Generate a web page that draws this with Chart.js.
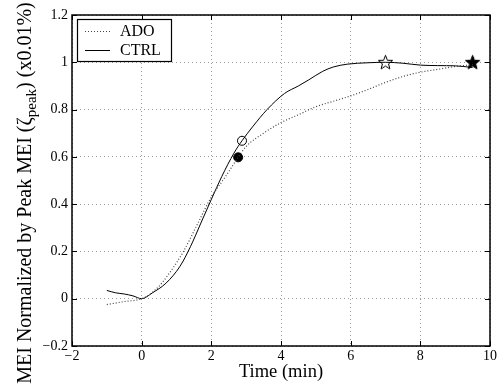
<!DOCTYPE html>
<html>
<head>
<meta charset="utf-8">
<script src="https://cdn.jsdelivr.net/npm/chart.js@4.4.0/dist/chart.umd.min.js"></script>
<style>
  html, body { margin: 0; padding: 0; background: #fff; }
  #wrap { width: 499px; height: 385px; }
</style>
</head>
<body>
<div id="wrap"><canvas id="meiChart" width="499" height="385"></canvas></div>
<script>
// ---- data ----
const ctrlX = [-1, -0.75, -0.5, -0.25, 0, 0.3, 0.7, 1.1, 1.4, 1.7, 2.0, 2.3, 2.65, 2.88, 3.2, 3.6, 4.1, 4.5, 4.8, 5.2, 5.5, 5.9, 6.5, 7.0, 7.5, 8.0, 8.5, 9.0, 9.5];
const ctrlY = [0.035, 0.025, 0.02, 0.012, 0, 0.024, 0.066, 0.137, 0.22, 0.32, 0.42, 0.517, 0.616, 0.668, 0.73, 0.80, 0.868, 0.90, 0.926, 0.962, 0.98, 0.992, 0.998, 1.0, 0.996, 0.988, 0.986, 0.985, 0.978];

const adoX = [-1, -0.5, 0, 0.4, 0.8, 1.2, 1.6, 2.0, 2.4, 2.77, 3.0, 3.5, 4.0, 4.5, 5.0, 5.5, 6.0, 6.5, 7.0, 7.5, 8.0, 8.5, 9.0, 9.5];
const adoY = [-0.025, -0.012, 0, 0.038, 0.109, 0.2, 0.315, 0.43, 0.515, 0.598, 0.644, 0.70, 0.745, 0.778, 0.812, 0.835, 0.858, 0.885, 0.915, 0.94, 0.958, 0.97, 0.982, 0.99];

// onset (circle) and peak (star) markers
const ctrlMarkX = [2.88, 7.0];
const ctrlMarkY = [0.668, 1.0];
const adoMarkX = [2.77, 9.5];
const adoMarkY = [0.598, 1.0];

const seriesLabels = ["ADO", "CTRL"];
const xTicks = [-2, 0, 2, 4, 6, 8, 10];
const yTicks = [-0.2, 0, 0.2, 0.4, 0.6, 0.8, 1, 1.2];

const FONT = "'Liberation Serif', 'Times New Roman', serif";

// five pointed star marker
function makeStar(filled) {
  const c = document.createElement("canvas");
  c.width = 17; c.height = 17;
  const g = c.getContext("2d");
  g.beginPath();
  for (let i = 0; i < 10; i++) {
    const r = i % 2 === 0 ? 7.5 : 3.2;
    const a = -Math.PI / 2 + i * Math.PI / 5;
    const px = 8.5 + r * Math.cos(a), py = 9 + r * Math.sin(a);
    if (i === 0) g.moveTo(px, py); else g.lineTo(px, py);
  }
  g.closePath();
  g.fillStyle = filled ? "#000" : "#fff";
  g.fill();
  g.lineWidth = 1;
  g.strokeStyle = "#000";
  g.stroke();
  return c;
}

const zip = (xs, ys) => xs.map((x, i) => ({ x: x, y: ys[i] }));
const minus = v => String(v).replace("-", "\u2212");

// box, inward ticks, legend, y title with subscript
const framePlugin = {
  id: "frame",
  afterDatasetsDraw(chart) {
    const ctx = chart.ctx;
    const a = chart.chartArea;
    const sx = chart.scales.x, sy = chart.scales.y;
    ctx.save();
    ctx.strokeStyle = "#000";
    ctx.lineWidth = 1.5;
    ctx.strokeRect(a.left, a.top, a.right - a.left, a.bottom - a.top);
    ctx.lineWidth = 1;
    ctx.beginPath();
    xTicks.forEach(t => {
      const px = Math.round(sx.getPixelForValue(t)) + 0.5;
      ctx.moveTo(px, a.bottom); ctx.lineTo(px, a.bottom - 5);
      ctx.moveTo(px, a.top); ctx.lineTo(px, a.top + 5);
    });
    yTicks.forEach(t => {
      const py = Math.round(sy.getPixelForValue(t)) + 0.5;
      ctx.moveTo(a.left, py); ctx.lineTo(a.left + 5, py);
      ctx.moveTo(a.right, py); ctx.lineTo(a.right - 5, py);
    });
    ctx.stroke();

    // legend
    const lx = a.left + 5, ly = a.top + 4, lw = 94, lh = 42;
    ctx.fillStyle = "#fff";
    ctx.fillRect(lx, ly, lw, lh);
    ctx.strokeStyle = "#000";
    ctx.lineWidth = 1.2;
    ctx.strokeRect(lx + 0.5, ly + 0.5, lw, lh);
    ctx.font = "16px " + FONT;
    ctx.textBaseline = "middle";
    ctx.fillStyle = "#000";
    seriesLabels.forEach((lab, i) => {
      const yy = ly + 12 + i * 19;
      ctx.beginPath();
      ctx.lineWidth = 1;
      ctx.setLineDash(i === 0 ? [1, 2] : []);
      ctx.strokeStyle = i === 0 ? "#444" : "#000";
      ctx.moveTo(lx + 8, yy + 0.5); ctx.lineTo(lx + 33, yy + 0.5);
      ctx.stroke();
      ctx.setLineDash([]);
      ctx.fillText(lab, lx + 43, yy + 1);
    });

    // y axis title
    ctx.translate(26, 193);
    ctx.rotate(-Math.PI / 2);
    const big = "20px " + FONT, small = "15px " + FONT;
    const parts = [
      ["MEI Normalized by Peak MEI (\u03B6", big, 0],
      ["peak", small, 6],
      [") (x0.01%)", big, 0]
    ];
    let total = 0;
    parts.forEach(p => { ctx.font = p[1]; total += ctx.measureText(p[0]).width; });
    let cx = -total / 2;
    ctx.textBaseline = "middle";
    ctx.textAlign = "left";
    parts.forEach(p => {
      ctx.font = p[1];
      ctx.fillText(p[0], cx, p[2]);
      cx += ctx.measureText(p[0]).width;
    });
    ctx.restore();
  }
};

new Chart(document.getElementById("meiChart"), {
  type: "scatter",
  data: {
    datasets: [
      {
        label: seriesLabels[0],
        data: zip(adoX, adoY),
        showLine: true,
        borderColor: "#444",
        borderWidth: 1.2,
        borderDash: [1, 2],
        pointRadius: 0,
        cubicInterpolationMode: "monotone"
      },
      {
        label: seriesLabels[1],
        data: zip(ctrlX, ctrlY),
        showLine: true,
        borderColor: "#000",
        borderWidth: 1,
        pointRadius: 0,
        cubicInterpolationMode: "monotone"
      },
      {
        label: "CTRL markers",
        data: zip(ctrlMarkX, ctrlMarkY),
        showLine: false,
        pointStyle: ["circle", makeStar(false)],
        pointRadius: 4.5,
        pointBackgroundColor: "#fff",
        pointBorderColor: "#000",
        pointBorderWidth: 1
      },
      {
        label: "ADO markers",
        data: zip(adoMarkX, adoMarkY),
        showLine: false,
        pointStyle: ["circle", makeStar(true)],
        pointRadius: 4.5,
        pointBackgroundColor: "#000",
        pointBorderColor: "#000",
        pointBorderWidth: 1
      }
    ]
  },
  options: {
    responsive: false,
    animation: false,
    layout: { padding: { left: 0, right: 7, top: 15, bottom: 2 } },
    plugins: { legend: { display: false }, tooltip: { enabled: false } },
    scales: {
      x: {
        type: "linear",
        min: -2, max: 10,
        afterBuildTicks: s => { s.ticks = xTicks.map(v => ({ value: v })); },
        afterFit: s => { s.height = 37; },
        ticks: {
          color: "#000",
          font: { family: FONT, size: 14 },
          padding: 2,
          maxRotation: 0,
          callback: v => minus(v)
        },
        grid: { color: "#9a9a9a", lineWidth: 1, drawTicks: false },
        border: { display: false, dash: [1, 3] },
        title: {
          display: true,
          text: "Time (min)",
          color: "#000",
          font: { family: FONT, size: 18.5 },
          padding: { top: -6, bottom: 0 }
        }
      },
      y: {
        type: "linear",
        min: -0.2, max: 1.2,
        afterBuildTicks: s => { s.ticks = yTicks.map(v => ({ value: v })); },
        afterFit: s => { s.width = 72; },
        ticks: {
          color: "#000",
          font: { family: FONT, size: 14 },
          padding: 4,
          callback: v => minus(Math.round(v * 10) / 10)
        },
        grid: { color: "#9a9a9a", lineWidth: 1, drawTicks: false },
        border: { display: false, dash: [1, 3] }
      }
    }
  },
  plugins: [framePlugin]
});
</script>
</body>
</html>
